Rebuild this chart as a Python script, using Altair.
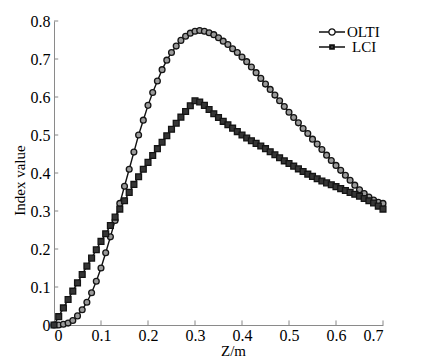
import altair as alt
import pandas as pd

z = [0.00, 0.01, 0.02, 0.03, 0.04, 0.05, 0.06, 0.07, 0.08, 0.09,
     0.10, 0.11, 0.12, 0.13, 0.14, 0.15, 0.16, 0.17, 0.18, 0.19,
     0.20, 0.21, 0.22, 0.23, 0.24, 0.25, 0.26, 0.27, 0.28, 0.29,
     0.30, 0.31, 0.32, 0.33, 0.34, 0.35, 0.36, 0.37, 0.38, 0.39,
     0.40, 0.41, 0.42, 0.43, 0.44, 0.45, 0.46, 0.47, 0.48, 0.49,
     0.50, 0.51, 0.52, 0.53, 0.54, 0.55, 0.56, 0.57, 0.58, 0.59,
     0.60, 0.61, 0.62, 0.63, 0.64, 0.65, 0.66, 0.67, 0.68, 0.69,
     0.70]

olti = [0.000, 0.000, 0.002, 0.005, 0.012, 0.024, 0.040, 0.060, 0.085, 0.115,
        0.150, 0.190, 0.232, 0.275, 0.320, 0.365, 0.410, 0.455, 0.500, 0.539,
        0.578, 0.612, 0.642, 0.672, 0.697, 0.717, 0.734, 0.749, 0.760, 0.768,
        0.773, 0.775, 0.773, 0.769, 0.764, 0.756, 0.747, 0.738, 0.727, 0.717,
        0.705, 0.693, 0.679, 0.664, 0.649, 0.634, 0.620, 0.605, 0.590, 0.575,
        0.560, 0.546, 0.532, 0.517, 0.504, 0.489, 0.476, 0.462, 0.447, 0.433,
        0.420, 0.407, 0.394, 0.381, 0.368, 0.356, 0.346, 0.337, 0.329, 0.323,
        0.320]

lci = [0.000, 0.022, 0.045, 0.067, 0.089, 0.111, 0.133, 0.155, 0.176, 0.198,
       0.220, 0.240, 0.262, 0.284, 0.305, 0.327, 0.349, 0.370, 0.390, 0.410,
       0.428, 0.446, 0.464, 0.481, 0.498, 0.515, 0.531, 0.547, 0.562, 0.577,
       0.590, 0.587, 0.578, 0.567, 0.556, 0.546, 0.536, 0.527, 0.518, 0.509,
       0.500, 0.492, 0.485, 0.478, 0.471, 0.464, 0.456, 0.448, 0.440, 0.432,
       0.425, 0.418, 0.411, 0.404, 0.397, 0.391, 0.385, 0.379, 0.374, 0.369,
       0.364, 0.359, 0.354, 0.349, 0.344, 0.339, 0.333, 0.327, 0.321, 0.313,
       0.305]

series_names = ["OLTI", "LCI"]
x_ticks = [0, 0.1, 0.2, 0.3, 0.4, 0.5, 0.6, 0.7]
y_ticks = [0, 0.1, 0.2, 0.3, 0.4, 0.5, 0.6, 0.7, 0.8]

rows = []
for name, vals in zip(series_names, [olti, lci]):
    for zz, v in zip(z, vals):
        rows.append({"Z": zz, "value": v, "series": name})
df = pd.DataFrame(rows)

FONT = "Liberation Serif"

xs = alt.Scale(domain=[0, 0.7], nice=False, zero=False)
ys = alt.Scale(domain=[0, 0.8], nice=False, zero=False)

x_axis = alt.Axis(values=x_ticks, format=".1~f", title="Z/m", labelOverlap=False,
                  titleX=179, titlePadding=0, labelPadding=2)
y_axis = alt.Axis(values=y_ticks, format=".1~f", title="Index value", labelOverlap=False,
                  titleY=159, titlePadding=3, labelPadding=4)

x_enc = alt.X("Z:Q", scale=xs, axis=x_axis, title="Z/m")
y_enc = alt.Y("value:Q", scale=ys, axis=y_axis, title="Index value")

path_olti = "M-1,0H-0.24M0.24,0H1M0.24,0A0.24,0.24,0,1,1,-0.24,0A0.24,0.24,0,1,1,0.24,0Z"
path_lci = "M-1,0H-0.17M0.17,0H1M-0.17,-0.17H0.17V0.17H-0.17ZM-0.08,-0.08H0.08V0.08H-0.08Z"

xt_df = pd.DataFrame({"t": x_ticks[1:]})
yt_df = pd.DataFrame({"t": y_ticks[1:]})

xtick_rules = alt.Chart(xt_df).mark_rule(color="#888888", strokeWidth=1).encode(
    x=alt.X("t:Q", scale=xs, axis=x_axis, title="Z/m"),
    y=alt.datum(0, scale=ys, axis=y_axis, title="Index value"),
    y2=alt.datum(0.012)
)
ytick_rules = alt.Chart(yt_df).mark_rule(color="#888888", strokeWidth=1).encode(
    y=alt.Y("t:Q", scale=ys, axis=y_axis, title="Index value"),
    x=alt.datum(0, scale=xs, axis=x_axis, title="Z/m"),
    x2=alt.datum(0.009)
)

lines = alt.Chart(df).mark_line(color="#111111", strokeWidth=1.4).encode(
    x=x_enc, y=y_enc, detail="series:N"
)

points = alt.Chart(df).mark_point(filled=False, strokeWidth=1.3, opacity=1).encode(
    x=x_enc, y=y_enc,
    shape=alt.Shape("series:N", scale=alt.Scale(domain=series_names, range=["circle", "square"]),
                    legend=None),
    fill=alt.Fill("series:N", scale=alt.Scale(domain=series_names, range=["#9a9a9a", "#353535"]),
                  legend=None),
    stroke=alt.value("#141414"),
    size=alt.value(34),
)

legend_a = alt.Chart(df).transform_filter("false").transform_calculate(
    la="datum.series"
).mark_point(filled=False, strokeWidth=1.3, opacity=1).encode(
    x=x_enc, y=y_enc,
    stroke=alt.Stroke("la:N", scale=alt.Scale(domain=["OLTI"], range=["#111111"]),
                      legend=alt.Legend(
                          title=None, orient="none", legendX=264, legendY=-3,
                          symbolType=path_olti, symbolSize=676, symbolStrokeWidth=1.3,
                          symbolFillColor="#9a9a9a", symbolOpacity=1,
                          labelFont=FONT, labelFontSize=15, labelColor="black",
                          labelOffset=1, padding=0)),
)

legend_b = alt.Chart(df).transform_filter("false").transform_calculate(
    lb="datum.series"
).mark_point(filled=False, strokeWidth=1.3, opacity=1).encode(
    x=x_enc, y=y_enc,
    color=alt.Color("lb:N", scale=alt.Scale(domain=["LCI"], range=["#111111"]),
                    legend=alt.Legend(
                        title=None, orient="none", legendX=264, legendY=12,
                        symbolType=path_lci, symbolSize=676, symbolStrokeWidth=1.3,
                        symbolFillColor="#333333", symbolOpacity=1,
                        labelFont=FONT, labelFontSize=15, labelColor="black",
                        labelOffset=6, padding=0)),
)

chart = alt.layer(lines, points, xtick_rules, ytick_rules, legend_a, legend_b).resolve_scale(
    shape="independent", fill="independent"
).properties(
    width=329, height=304,
    autosize=alt.AutoSizeParams(type="none"),
    padding={"left": 46, "top": 13, "right": 30, "bottom": 34},
).configure_view(stroke=None).configure_axis(
    grid=False, ticks=False, domainColor="#8a8a8a", domainWidth=1,
    labelFont=FONT, labelFontSize=16, labelColor="black",
    titleFont=FONT, titleFontSize=15, titleFontWeight="normal", titleColor="black",
)

chart.save("out.html", embed_options={"renderer": "svg", "actions": False})
